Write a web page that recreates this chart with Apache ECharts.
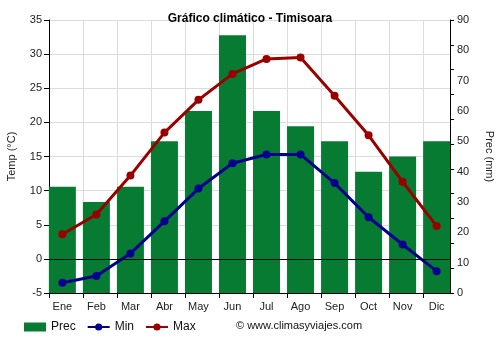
<!DOCTYPE html>
<html>
<head>
<meta charset="utf-8">
<script src="https://cdn.jsdelivr.net/npm/echarts@6/dist/echarts.min.js"></script>
<style>
  html, body { margin: 0; padding: 0; background: #fff; }
  #chart { width: 500px; height: 350px; }
</style>
</head>
<body>
<div id="chart"></div>
<script>
// Monthly climate data for Timisoara
const months = ['Ene', 'Feb', 'Mar', 'Abr', 'May', 'Jun', 'Jul', 'Ago', 'Sep', 'Oct', 'Nov', 'Dic'];
const precMm = [35, 30, 35, 50, 60, 85, 60, 55, 50, 40, 45, 50];
const tempMin = [-3.5, -2.5, 0.8, 5.5, 10.3, 14.0, 15.3, 15.3, 11.1, 6.1, 2.1, -1.8];
const tempMax = [3.6, 6.5, 12.2, 18.5, 23.3, 27.1, 29.3, 29.5, 23.9, 18.1, 11.3, 4.8];
const tempTicks = { min: -5, max: 35, step: 5 };
const precTicks = { min: 0, max: 90, step: 10 };
const precMarkCount = 11; // tick marks along the right axis

const FONT = 'Liberation Sans, Arial, sans-serif';
const GREEN = '#077b31';
const BLUE = '#00008f';
const RED = '#990000';

// Each month sits at an integer x; bars are left-aligned to the tick marks,
// so the axis runs a little beyond the first and last month.
const half = 13.35 / 34;
const xMin = -half;
const xMax = months.length - 1 + half;
const monthIdx = months.map((_, i) => i);
const tickPos = monthIdx.map(i => i - half);
const precMarks = Array.from({ length: precMarkCount + 1 },
  (_, k) => precTicks.min + k * (precTicks.max - precTicks.min) / precMarkCount);

const pairs = arr => arr.map((v, i) => [i, v]);

const chart = echarts.init(document.getElementById('chart'), null, { renderer: 'canvas' });

chart.setOption({
  animation: false,
  textStyle: { fontFamily: FONT },
  title: {
    text: 'Gráfico climático - Timisoara',
    left: 'center',
    top: 8,
    textStyle: { fontSize: 12, fontWeight: 'bold', color: '#000', fontFamily: FONT }
  },
  grid: { left: 49, right: 50, top: 20, height: 273, containLabel: false, outerBoundsMode: 'none' },
  legend: {
    left: 24,
    top: 321,
    padding: 0,
    itemWidth: 22,
    itemHeight: 9,
    itemGap: 11,
    textStyle: { fontSize: 12, color: '#111', fontFamily: FONT },
    data: [
      { name: 'Prec', icon: 'rect' },
      { name: 'Min' },
      { name: 'Max' }
    ]
  },
  graphic: [{
    type: 'text',
    left: 236,
    top: 320,
    style: { text: '© www.climasyviajes.com', fontSize: 11, fill: '#111', fontFamily: FONT }
  }],
  xAxis: {
    type: 'value',
    min: xMin,
    max: xMax,
    axisLine: { show: true, onZero: false, lineStyle: { color: '#000', width: 1 } },
    axisTick: { show: true, length: 5, customValues: tickPos, lineStyle: { color: '#000' } },
    axisLabel: {
      customValues: monthIdx,
      formatter: v => months[Math.round(v)],
      fontSize: 11, color: '#222', margin: 8, fontFamily: FONT
    },
    splitLine: { show: true, lineStyle: { color: '#dcdcdc', width: 1 } }
  },
  yAxis: [
    {
      type: 'value',
      position: 'left',
      min: tempTicks.min, max: tempTicks.max, interval: tempTicks.step,
      name: 'Temp (°C)',
      nameLocation: 'middle',
      nameRotate: 90,
      nameGap: 32,
      nameTextStyle: { fontSize: 11, color: '#222', fontFamily: FONT },
      axisLine: { show: true, onZero: false, lineStyle: { color: '#000' } },
      axisTick: { show: true, length: 5, lineStyle: { color: '#000' } },
      axisLabel: { fontSize: 11, color: '#222', margin: 7, fontFamily: FONT },
      splitLine: { show: true, lineStyle: { color: '#dcdcdc', width: 1 } }
    },
    {
      type: 'value',
      position: 'right',
      min: precTicks.min, max: precTicks.max, interval: precTicks.step,
      name: 'Prec (mm)',
      nameLocation: 'middle',
      nameRotate: -90,
      nameGap: 34,
      nameTextStyle: { fontSize: 11, color: '#222', fontFamily: FONT },
      axisLine: { show: true, onZero: false, lineStyle: { color: '#000' } },
      axisTick: { show: true, length: 4, customValues: precMarks, lineStyle: { color: '#000' } },
      axisLabel: { fontSize: 11, color: '#222', margin: 7, fontFamily: FONT },
      splitLine: { show: false }
    }
  ],
  series: [
    {
      name: 'Prec',
      type: 'bar',
      yAxisIndex: 1,
      barWidth: 27,
      itemStyle: { color: GREEN },
      data: pairs(precMm),
      z: 1
    },
    {
      name: 'Min',
      type: 'line',
      yAxisIndex: 0,
      data: pairs(tempMin),
      symbol: 'circle',
      symbolSize: 8,
      lineStyle: { color: BLUE, width: 3 },
      itemStyle: { color: BLUE },
      z: 3,
      markLine: {
        silent: true,
        symbol: 'none',
        label: { show: false },
        lineStyle: { color: '#000', width: 1, type: 'solid' },
        data: [{ yAxis: 0 }]
      }
    },
    {
      name: 'Max',
      type: 'line',
      yAxisIndex: 0,
      data: pairs(tempMax),
      symbol: 'circle',
      symbolSize: 8,
      lineStyle: { color: RED, width: 3 },
      itemStyle: { color: RED },
      z: 4
    }
  ]
});
</script>
</body>
</html>
